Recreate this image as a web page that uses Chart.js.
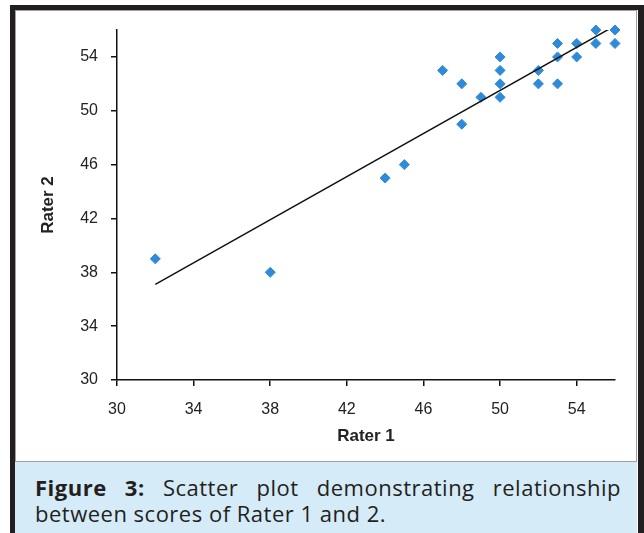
<!DOCTYPE html>
<html>
<head>
<meta charset="utf-8">
<script src="https://cdn.jsdelivr.net/npm/chart.js@4"></script>
<style>
    body { margin: 0; width: 644px; height: 533px; overflow: hidden; background: #fff; position: relative; }
    .frame { position: absolute; left: 10px; top: 5px; width: 623px; height: 540px; border: 5px solid #231f20; border-right-width: 6px; border-bottom: none; }
    .panel { position: absolute; left: 15px; top: 10px; width: 620px; height: 450px; border: 1px solid #a0a0a0; background: #fff; }
    .caption { position: absolute; left: 15px; top: 462px; width: 622px; height: 71px; background: #d5ebf7; }
    .caption div { margin: 0; position: absolute; left: 20px; top: 12px; width: 586px; font-family: "Open Sans", sans-serif; font-size: 22px; letter-spacing: 0.5px; line-height: 26px; color: #231f20; }
    .caption .l1 { display: block; text-align: justify; text-align-last: justify; }
    .caption .l2 { display: block; }
    #chart { position: absolute; left: 0; top: 0; }
</style>
</head>
<body>
    <div class="frame"></div>
    <div class="panel"></div>
    <div class="caption"><div><span class="l1"><b>Figure 3:</b> Scatter plot demonstrating relationship</span><span class="l2">between scores of Rater 1 and 2.</span></div></div>
    <canvas id="chart" width="644" height="533"></canvas>
    <script>
        // scores
        const rater1 = [32, 38, 44, 45, 47, 48, 48, 49, 50, 50, 50, 50, 52, 52, 53, 53, 53, 54, 54, 55, 55, 56, 56];
        const rater2 = [39, 38, 45, 46, 53, 52, 49, 51, 54, 53, 52, 51, 53, 52, 55, 54, 52, 55, 54, 56, 55, 56, 55];
        const axisTicks = [30, 34, 38, 42, 46, 50, 54];

        // least squares trend line through the points
        const n = rater1.length;
        const mx = rater1.reduce((a, b) => a + b, 0) / n;
        const my = rater2.reduce((a, b) => a + b, 0) / n;
        let sxy = 0, sxx = 0;
        for (let i = 0; i < n; i++) {
            sxy += (rater1[i] - mx) * (rater2[i] - my);
            sxx += (rater1[i] - mx) ** 2;
        }
        const slope = sxy / sxx;
        const icpt = my - slope * mx;
        const xMin = Math.min(...rater1), xMax = Math.max(...rater1);

        const tickFont = { family: 'Liberation Sans', size: 16 };
        const titleFont = { family: 'Liberation Sans', size: 17, weight: 'bold' };

        new Chart(document.getElementById('chart').getContext('2d'), {
            type: 'scatter',
            data: {
                datasets: [{
                    type: 'line',
                    data: [{ x: xMin, y: slope * xMin + icpt }, { x: xMax, y: slope * xMax + icpt }],
                    borderColor: '#111',
                    borderWidth: 1.5,
                    pointRadius: 0,
                    order: 0
                }, {
                    data: rater1.map((x, i) => ({ x: x, y: rater2[i] })),
                    pointStyle: 'rectRot',
                    pointRadius: 5,
                    backgroundColor: '#2f8bd9',
                    borderColor: '#2f8bd9',
                    borderWidth: 1,
                    clip: false,
                    order: 1
                }]
            },
            options: {
                responsive: false,
                animation: false,
                layout: { padding: { left: 38, top: 30, right: 29, bottom: 86 } },
                plugins: { legend: { display: false }, tooltip: { enabled: false } },
                scales: {
                    x: {
                        type: 'linear', min: 30, max: 56,
                        afterBuildTicks: s => { s.ticks = axisTicks.map(v => ({ value: v })); },
                        afterFit: s => { s.height = 67; },
                        border: { color: '#111', width: 1.5 },
                        grid: { drawOnChartArea: false, drawTicks: true, tickLength: 6, color: '#111', lineWidth: 1.5 },
                        ticks: { font: tickFont, color: '#222', padding: 14, maxRotation: 0 },
                        title: { display: true, text: 'Rater 1', font: titleFont, color: '#222', padding: 0 }
                    },
                    y: {
                        type: 'linear', min: 30, max: 56,
                        afterBuildTicks: s => { s.ticks = axisTicks.map(v => ({ value: v })); },
                        afterFit: s => { s.width = 79; },
                        border: { color: '#111', width: 1.5 },
                        grid: { drawOnChartArea: false, drawTicks: true, tickLength: 6, color: '#111', lineWidth: 1.5 },
                        ticks: { font: tickFont, color: '#222', padding: 13 },
                        title: { display: true, text: 'Rater 2', font: titleFont, color: '#222', padding: 0 }
                    }
                }
            }
        });
    </script>
</body>
</html>
